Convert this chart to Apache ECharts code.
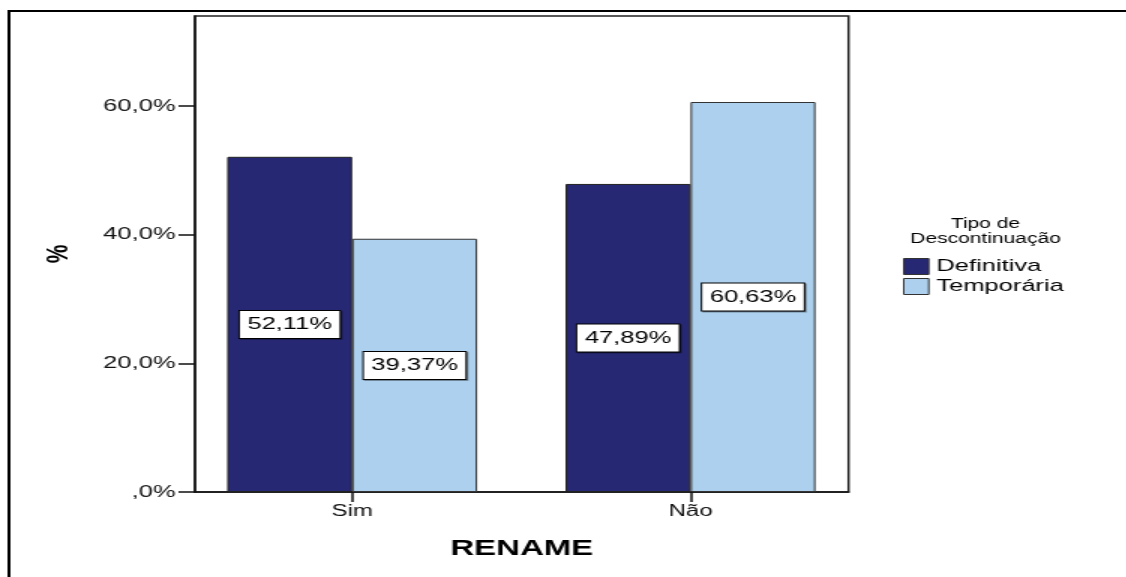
<!DOCTYPE html>
<html>
<head>
<meta charset="utf-8">
<title>RENAME</title>
<script src="https://cdn.jsdelivr.net/npm/echarts@6/dist/echarts.min.js"></script>
<style>
  html, body { margin: 0; padding: 0; background: #fff; overflow: hidden; }
  /* the reference is stretched sideways, so draw narrow and stretch */
  #chart { width: 750.667px; height: 577px; transform: scaleX(1.5); transform-origin: 0 0; }
</style>
</head>
<body>
<div id="chart"></div>
<script>
const categories = ['Sim', 'Não']
const seriesNames = ['Definitiva', 'Temporária']
const definitiva = [52.11, 47.89]
const temporaria = [39.37, 60.63]
const yTicks = [0, 20, 40, 60]

const font = 'Liberation Sans, Arial, sans-serif'

function pct(v, d) {
  if (v === 0) return ',0%'
  return v.toFixed(d).replace('.', ',') + '%'
}

const label = {
  show: true,
  position: 'inside',
  formatter: p => pct(p.value[1], 2),
  color: '#000',
  fontFamily: font,
  fontSize: 17,
  lineHeight: 19,
  backgroundColor: '#fff',
  borderColor: '#000',
  borderWidth: 1,
  padding: [4, 5],
  shadowColor: 'rgba(0,0,0,0.35)',
  shadowOffsetX: 1,
  shadowOffsetY: 1
}

const chart = echarts.init(document.getElementById('chart'))
chart.setOption({
  animation: false,
  grid: {
    left: 130,
    right: 185.3,
    top: 16,
    bottom: 85,
    show: true,
    borderColor: '#222',
    borderWidth: 1.5,
    backgroundColor: '#fff'
  },
  legend: {
    data: seriesNames,
    orient: 'vertical',
    left: 602,
    top: 258,
    padding: 0,
    icon: 'rect',
    itemWidth: 16.7,
    itemHeight: 16,
    itemGap: 3,
    selectedMode: false,
    itemStyle: { borderColor: '#333', borderWidth: 1 },
    textStyle: { fontFamily: font, fontSize: 17, lineHeight: 16, color: '#000' }
  },
  xAxis: {
    type: 'value',
    min: -0.4645,
    max: 1.467,
    name: 'RENAME',
    nameLocation: 'middle',
    nameGap: 46,
    nameTextStyle: { fontFamily: font, fontSize: 22, fontWeight: 'bold', color: '#000' },
    splitLine: { show: false },
    axisLine: { lineStyle: { color: '#111', width: 1.5 } },
    axisTick: { customValues: [0, 1], length: 10, lineStyle: { color: '#111', width: 1.5 } },
    axisLabel: {
      customValues: [0, 1],
      formatter: v => categories[Math.round(v)],
      margin: 12,
      fontFamily: font,
      fontSize: 16,
      color: '#111'
    }
  },
  yAxis: {
    type: 'value',
    min: 0,
    max: 74,
    name: '%',
    nameLocation: 'middle',
    nameRotate: 90,
    nameGap: 80,
    nameTextStyle: { fontFamily: font, fontSize: 21, fontWeight: 'bold', color: '#000' },
    splitLine: { show: false },
    axisLine: { show: true, onZero: false, lineStyle: { color: '#111', width: 1.5 } },
    axisTick: { show: true, customValues: yTicks, length: 11, lineStyle: { color: '#111', width: 1.5 } },
    axisLabel: {
      customValues: yTicks,
      formatter: v => pct(v, 1),
      margin: 13,
      fontFamily: font,
      fontSize: 17,
      color: '#111'
    }
  },
  graphic: [
    {
      type: 'polyline',
      shape: { points: [[6, 577], [6, 11], [751, 11]] },
      style: { stroke: '#000', lineWidth: 2, fill: null }
    },
    {
      type: 'text',
      x: 657,
      y: 217,
      style: {
        text: 'Tipo de\nDescontinuação',
        align: 'center',
        verticalAlign: 'top',
        fontFamily: font,
        fontSize: 14,
        lineHeight: 15,
        fill: '#000'
      }
    }
  ],
  series: [
    {
      name: seriesNames[0],
      type: 'bar',
      barWidth: 83.3,
      barGap: '0%',
      data: categories.map((c, i) => [i, definitiva[i]]),
      itemStyle: { color: '#272873', borderColor: '#222', borderWidth: 1 },
      label: label
    },
    {
      name: seriesNames[1],
      type: 'bar',
      barWidth: 83.3,
      barGap: '0%',
      data: categories.map((c, i) => [i, temporaria[i]]),
      itemStyle: { color: '#acd0ed', borderColor: '#333', borderWidth: 1 },
      label: label
    }
  ]
})
</script>
</body>
</html>
